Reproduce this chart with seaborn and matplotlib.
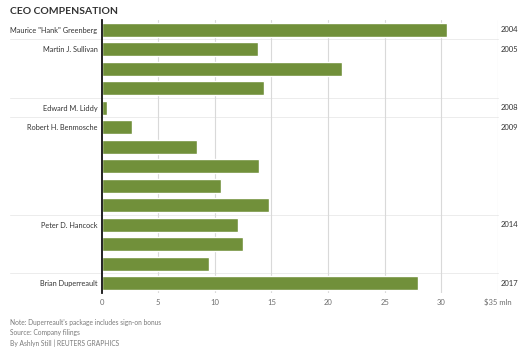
import numpy as np
import matplotlib
matplotlib.use("Agg")
import matplotlib.pyplot as plt
import seaborn as sns

# Data (compensation in $ mln)
years = ["2004", "2005", "2006", "2007", "2008", "2009", "2010", "2011",
         "2012", "2013", "2014", "2015", "2016", "2017"]
pay = [30.5, 13.8, 21.2, 14.3, 0.45, 2.7, 8.4, 13.9,
       10.5, 14.8, 12.0, 12.5, 9.5, 27.9]
names = ['Maurice "Hank" Greenberg', "Martin J. Sullivan", "", "",
         "Edward M. Liddy", "Robert H. Benmosche", "", "", "", "",
         "Peter D. Hancock", "", "", "Brian Duperreault"]
year_labels = ["2004", "2005", "", "", "2008", "2009", "", "", "", "",
               "2014", "", "", "2017"]
x_ticks = [0, 5, 10, 15, 20, 25, 30, 35]
x_tick_labels = ["0", "5", "10", "15", "20", "25", "30", "$35 mln"]

sns.set_theme(style="white")
plt.rcParams["font.family"] = ["Lato", "DejaVu Sans"]

green = "#71903a"
text_col = "#333333"
grey = "#6e6e6e"

fig = plt.figure(figsize=(5.32, 3.55), dpi=100)
ax = fig.add_axes([0.191, 0.175, 0.745, 0.769])

sns.barplot(x=pay, y=years, color=green, width=0.72, saturation=1,
            orient="h", ax=ax, zorder=3)

ax.set_xlim(0, 35)
ax.set_ylim(13.5, -0.5)
ax.set_xticks(x_ticks)
ax.set_xticklabels(x_tick_labels, fontsize=5.5, color=grey)
for lab in ax.get_xticklabels():
    lab.set_verticalalignment("baseline")
ax.set_yticks(range(len(years)))
ax.set_yticklabels(names, fontsize=5.3, color=text_col)
ax.tick_params(axis="x", length=0, pad=9)
ax.tick_params(axis="y", length=0, pad=3)
ax.set_xlabel("")
ax.set_ylabel("")

for t in x_ticks[1:]:
    ax.axvline(t, color="#d9d9d9", lw=0.8, zorder=1)

for s in ["top", "right", "bottom"]:
    ax.spines[s].set_visible(False)
ax.spines["left"].set_color("#111111")
ax.spines["left"].set_linewidth(1.3)
ax.spines["left"].set_zorder(4)

# separators between CEOs
for y in [0.5, 3.5, 4.5, 9.5, 12.5]:
    ax.axhline(y, xmin=-0.23, xmax=1.0, color="#ececec", lw=0.7,
               clip_on=False, zorder=0)

for i, lab in enumerate(year_labels):
    if lab:
        ax.text(1.007, i, lab, transform=ax.get_yaxis_transform(),
                fontsize=5.5, color=text_col, va="center", ha="left")

fig.text(0.019, 0.968, "CEO COMPENSATION", fontsize=7.5, fontweight="bold",
         color="#333333", va="center", ha="left")

notes = ["Note: Duperreault's package includes sign-on bonus",
         "Source: Company filings",
         "By Ashlyn Still | REUTERS GRAPHICS"]
for k, line in enumerate(notes):
    fig.text(0.019, 1 - (323 + 10 * k) / 355, line, fontsize=4.8,
             color="#7a7a7a", va="center", ha="left")

plt.savefig("out.png", dpi=100)
plt.close()
